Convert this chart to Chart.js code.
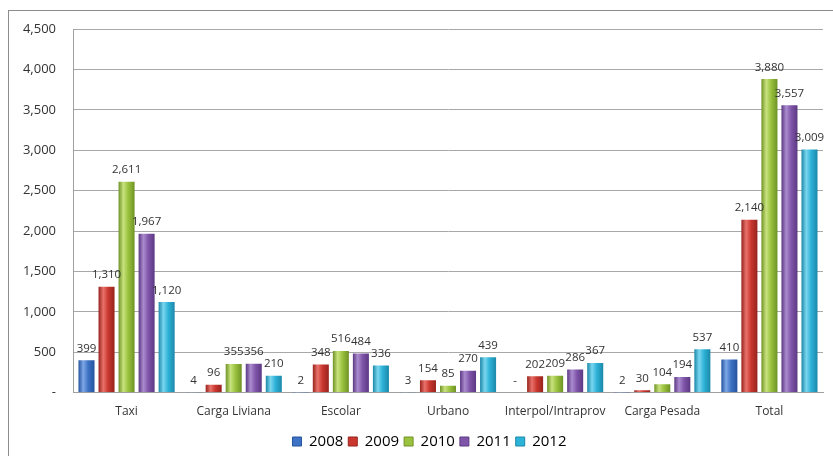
<!DOCTYPE html>
<html>
<head>
<meta charset="utf-8">
<script src="https://cdn.jsdelivr.net/npm/chart.js@4/dist/chart.umd.min.js"></script>
<style>
  html, body { margin: 0; padding: 0; background: #fff; overflow: hidden; }
  #frame { position: absolute; left: 8px; top: 10px; width: 840px; height: 460px; border: 1px solid #8c8c8c; }
  #wrap { position: absolute; left: 0; top: 0; width: 833px; height: 465px; }
</style>
</head>
<body>
<div id="frame"></div>
<div id="wrap"><canvas id="vehicles"></canvas></div>
<script>
// categories and yearly series
const categories = ['Taxi', 'Carga Liviana', 'Escolar', 'Urbano', 'Interpol/Intraprov', 'Carga Pesada', 'Total']
const years = ['2008', '2009', '2010', '2011', '2012']
const v2008 = [399, 4, 2, 3, 0, 2, 410]
const v2009 = [1310, 96, 348, 154, 202, 30, 2140]
const v2010 = [2611, 355, 516, 85, 209, 104, 3880]
const v2011 = [1967, 356, 484, 270, 286, 194, 3557]
const v2012 = [1120, 210, 336, 439, 367, 537, 3009]
const yTicks = [0, 500, 1000, 1500, 2000, 2500, 3000, 3500, 4000, 4500]

// base / light / dark shades for the cylinder look
const shades = [
  ['#3d72c4', '#7ea7e6', '#24539e'],
  ['#c9372f', '#e8726b', '#97231d'],
  ['#9ac23e', '#c8e27e', '#6f9225'],
  ['#7f55a9', '#ab8ccf', '#5c3883'],
  ['#2db2d8', '#7bd6ef', '#1b88a8']
]

const fmt = v => v === 0 ? '-' : v.toLocaleString('en-US')

const ctx = document.getElementById('vehicles').getContext('2d')

// paint every bar with its own horizontal gradient once positions are known
const cylinderShade = {
  id: 'cylinderShade',
  beforeDatasetsDraw(chart) {
    const c = chart.ctx
    chart.data.datasets.forEach((ds, i) => {
      const s = shades[i]
      chart.getDatasetMeta(i).data.forEach(bar => {
        const l = bar.x - bar.width / 2, r = bar.x + bar.width / 2
        const g = c.createLinearGradient(l, 0, r, 0)
        g.addColorStop(0, s[2])
        g.addColorStop(0.3, s[1])
        g.addColorStop(0.6, s[0])
        g.addColorStop(1, s[2])
        bar.options = Object.assign({}, bar.options, { backgroundColor: g })
      })
    })
  }
}

// legend sits a bit right of centre, text centred near y=440
const legendNudge = {
  id: 'legendNudge',
  afterLayout(chart) {
    const lg = chart.legend
    const h = lg.bottom - lg.top
    lg.left += 18
    lg.right += 18
    lg.top = 440 - 9 - 2
    lg.bottom = lg.top + h
  }
}

// value labels above bars
const valueLabels = {
  id: 'valueLabels',
  afterDatasetsDraw(chart) {
    const c = chart.ctx
    c.save()
    c.font = '11.5px "Open Sans", sans-serif'
    c.fillStyle = '#333'
    c.textAlign = 'center'
    c.textBaseline = 'bottom'
    chart.data.datasets.forEach((ds, i) => {
      chart.getDatasetMeta(i).data.forEach((bar, j) => {
        c.fillText(fmt(ds.data[j]), bar.x, bar.y - 6)
      })
    })
    c.restore()
  }
}

const series = [v2008, v2009, v2010, v2011, v2012]

new Chart(ctx, {
  type: 'bar',
  data: {
    labels: categories,
    datasets: series.map((d, i) => ({
      label: years[i],
      data: d,
      backgroundColor: shades[i][0],
      borderWidth: 0,
      categoryPercentage: 0.935,
      barPercentage: 0.8
    }))
  },
  options: {
    responsive: true,
    maintainAspectRatio: false,
    animation: false,
    layout: { padding: { top: 29, right: 10, left: 0, bottom: 12 } },
    plugins: {
      tooltip: { enabled: false },
      legend: {
        position: 'bottom',
        labels: {
          boxWidth: 9,
          boxHeight: 9,
          padding: 5,
          color: '#333',
          font: { family: 'Open Sans', size: 15 },
          generateLabels(chart) {
            return years.map((y, i) => ({
              text: y,
              fillStyle: shades[i][0],
              strokeStyle: shades[i][2],
              lineWidth: 1,
              datasetIndex: i
            }))
          }
        }
      }
    },
    scales: {
      x: {
        grid: { display: false },
        border: { color: '#a0a0a0' },
        ticks: { color: '#333', font: { family: 'Open Sans', size: 12 }, padding: 4 }
      },
      y: {
        min: 0,
        max: 4500,
        afterFit(scale) { scale.width = 73 },
        afterBuildTicks(scale) { scale.ticks = yTicks.map(v => ({ value: v })) },
        grid: { color: '#a8a8a8', drawTicks: false },
        border: { color: '#a0a0a0' },
        ticks: {
          color: '#333',
          padding: 17,
          font: { family: 'Open Sans', size: 13 },
          callback: v => fmt(v)
        }
      }
    }
  },
  plugins: [cylinderShade, legendNudge, valueLabels]
})
</script>
</body>
</html>
